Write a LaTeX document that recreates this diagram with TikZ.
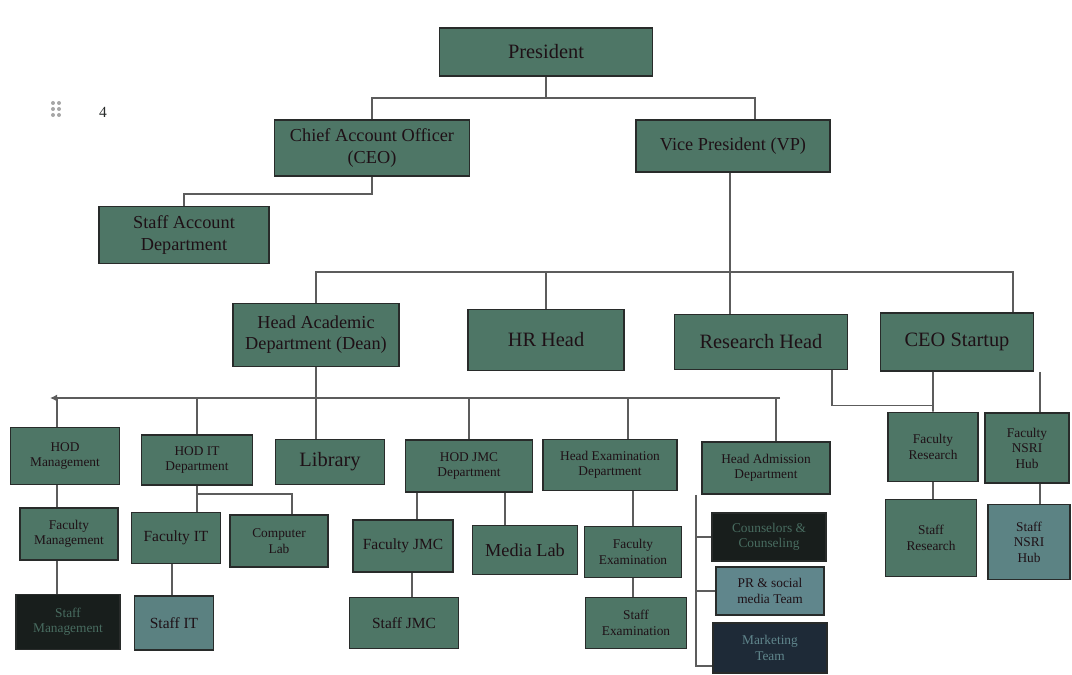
\documentclass[tikz,border=0pt]{standalone}
\usepackage{fontspec}
\setmainfont{Liberation Serif}
\usepackage{tikz}
\usetikzlibrary{arrows.meta}
\usepackage{xcolor}
\definecolor{boxteal}{RGB}{78,118,102}
\definecolor{boxline}{RGB}{40,43,42}
\definecolor{boxtext}{RGB}{30,16,22}
\definecolor{boxdark}{RGB}{24,30,28}
\definecolor{darktext}{RGB}{72,108,96}
\definecolor{boxblue}{RGB}{96,134,140}
\definecolor{boxnavy}{RGB}{30,42,55}
\definecolor{wire}{RGB}{92,92,92}

\begin{document}
\begin{tikzpicture}[x=0.025cm,y=-0.025cm,
    box/.style={draw=boxline,line width=1.3pt,fill=boxteal,text=boxtext,align=center,
        inner sep=1pt,font=\fontsize{13}{15}\selectfont},
    big/.style={font=\fontsize{14.5}{16}\selectfont},
    small/.style={font=\fontsize{9.5}{11}\selectfont},
    mid/.style={font=\fontsize{11}{13}\selectfont},
    darkbox/.style={fill=boxdark,text=darktext},
    sz/.style 2 args={minimum width=#1*0.025cm,minimum height=#2*0.025cm},
    wire/.style={draw=wire,line width=1.3pt}]
    \useasboundingbox (0,0) rectangle (1072,675);
    % handle mark top left
    \foreach \i in {0,1} \foreach \j in {0,1,2}
        \fill[gray!70] (53+6*\i,103+6*\j) circle (2);
    \node[text=boxline,font=\fontsize{11}{12}\selectfont] (mark) at (103,112) {4};
    % top levels
    \node[box,big,sz={213}{48}] (pres) at (546,52) {President};
    \node[box,sz={195}{56}] (cao) at (372,148) {Chief Account Officer\\(CEO)};
    \node[box,sz={194}{52}] (vp) at (733,146) {Vice President (VP)};
    \node[box,sz={170}{57}] (sad) at (184,235) {Staff Account\\Department};
    \node[box,sz={166}{63}] (dean) at (316,335) {Head Academic\\Department (Dean)};
    \node[box,big,sz={156}{61}] (hr) at (546,340) {HR Head};
    \node[box,big,sz={173}{55}] (rh) at (761,342) {Research Head};
    \node[box,big,sz={153}{58}] (ceos) at (957,342) {CEO Startup};
    % departments
    \node[box,small,sz={109}{57}] (hodm) at (65,456) {HOD\\Management};
    \node[box,small,sz={111}{50}] (hodit) at (197,460) {HOD IT\\Department};
    \node[box,big,sz={109}{45}] (lib) at (330,462) {Library};
    \node[box,small,sz={127}{52}] (hodj) at (469,466) {HOD JMC\\Department};
    \node[box,small,sz={134}{51}] (hexam) at (610,465) {Head Examination\\Department};
    \node[box,small,sz={128}{52}] (hadm) at (766,468) {Head Admission\\Department};
    \node[box,small,sz={90}{69}] (fres) at (933,447) {Faculty\\Research};
    \node[box,small,sz={84}{70}] (fnsri) at (1027,448) {Faculty\\NSRI\\Hub};
    % faculty
    \node[box,small,sz={98}{52}] (fm) at (69,534) {Faculty\\Management};
    \node[box,mid,sz={89}{51}] (fit) at (176,538) {Faculty IT};
    \node[box,small,sz={98}{52}] (clab) at (279,541) {Computer\\Lab};
    \node[box,mid,sz={100}{52}] (fjmc) at (403,546) {Faculty JMC};
    \node[box,sz={105}{49}] (mlab) at (525,550) {Media Lab};
    \node[box,small,sz={97}{51}] (fexam) at (633,552) {Faculty\\Examination};
    \node[box,small,darkbox,sz={114}{48}] (couns) at (769,537) {Counselors \&\\Counseling};
    \node[box,small,fill=boxblue,sz={108}{48}] (pr) at (770,591) {PR \& social\\media Team};
    \node[box,small,fill=boxnavy,text=boxblue,sz={114}{50}] (mkt) at (770,648) {Marketing\\Team};
    \node[box,small,sz={91}{77}] (sres) at (931,538) {Staff\\Research};
    \node[box,small,fill=boxblue!80!boxteal,sz={82}{75}] (snsri) at (1029,542) {Staff\\NSRI\\Hub};
    % staff
    \node[box,small,darkbox,sz={104}{55}] (sm) at (68,622) {Staff\\Management};
    \node[box,mid,fill=boxblue!70!boxteal,sz={79}{54}] (sit) at (174,623) {Staff IT};
    \node[box,mid,sz={109}{51}] (sjmc) at (404,623) {Staff JMC};
    \node[box,small,sz={101}{51}] (sexam) at (636,623) {Staff\\Examination};
    % connectors
    \draw[wire] (pres.south) -- ++(0,21) coordinate (j1);
    \draw[wire] (cao.north) |- (j1) -| ([xshift=0.55cm]vp.north);
    \draw[wire] (cao.south) -- ++(0,17) -| (sad.north);
    \coordinate (j2) at (730,272);
    \draw[wire] (vp.south -| j2) -- (rh.north -| j2);
    \draw[wire] (dean.north) |- (j2) -| ([xshift=1.4cm]ceos.north);
    \draw[wire] (hr.north) -- (hr.north |- j2);
    \coordinate (busL) at (50,398);
    \coordinate (busR) at (780,398);
    \draw[wire,-{Latex[length=5pt,width=5pt]}] (busR) -- (busL);
    \draw[wire] (dean.south) -- (dean.south |- lib.north);
    \foreach \n/\dx in {hodm/-0.2,hodit/0,hodj/0,hexam/0.45,hadm/0.25}
        \draw[wire] ([xshift=\dx cm]\n.north) -- ([xshift=\dx cm]\n.north |- busL);
    \draw[wire] ([xshift=1.775cm]rh.south) |- ([yshift=0.15cm]fres.north);
    \draw[wire] ([xshift=-0.6cm]ceos.south) -- (fres.north);
    \draw[wire] ([xshift=2.075cm]ceos.south) -- ([xshift=2.075cm]ceos.south |- fnsri.north);
    \draw[wire] ([xshift=-0.2cm]hodm.south) -- ([xshift=-0.2cm]hodm.south |- fm.north);
    \draw[wire] ([xshift=-0.3cm]fm.south) -- ([xshift=-0.3cm]fm.south |- sm.north);
    \draw[wire] (hodit.south) -- (hodit.south |- fit.north);
    \draw[wire] ([yshift=-0.2cm]hodit.south) -| ([xshift=0.325cm]clab.north);
    \draw[wire] ([xshift=-0.1cm]fit.south) -- ([xshift=-0.1cm]fit.south |- sit.north);
    \draw[wire] ([xshift=-1.3cm]hodj.south) -- ([xshift=-1.3cm]hodj.south |- fjmc.north);
    \draw[wire] ([xshift=0.9cm]hodj.south) -- ([xshift=0.9cm]hodj.south |- mlab.north);
    \draw[wire] ([xshift=0.225cm]fjmc.south) -- ([xshift=0.225cm]fjmc.south |- sjmc.north);
    \draw[wire] (fexam.north) -- (fexam.north |- hexam.south);
    \draw[wire] (fexam.south) -- (fexam.south |- sexam.north);
    \coordinate (adml) at ([xshift=-0.125cm]hadm.south west);
    \draw[wire] (adml) |- ([yshift=0.2cm]mkt.south west);
    \draw[wire] (couns.west) -- (couns.west -| adml);
    \draw[wire] (pr.west) -- (pr.west -| adml);
    \draw[wire] (fres.south) -- (fres.south |- sres.north);
    \draw[wire] ([xshift=0.325cm]fnsri.south) -- ([xshift=0.325cm]fnsri.south |- snsri.north);
\end{tikzpicture}
\end{document}
